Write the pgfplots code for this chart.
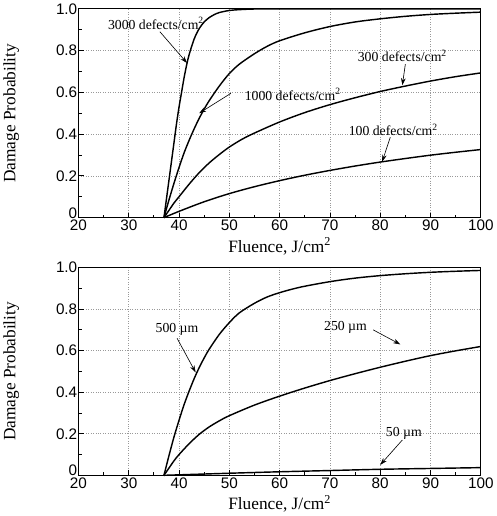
\documentclass[border=0pt]{standalone}
\usepackage{fontspec}
\setmainfont{Liberation Serif}
\newfontfamily\helv{Liberation Sans}
\usepackage{pgfplots}
\pgfplotsset{compat=1.18}
\usetikzlibrary{arrows.meta}

\pgfplotsset{dmg/.style={
  scale only axis, width=395pt,
  xmin=20, xmax=100, ymin=0, ymax=1,
  xtick={20,30,40,50,60,70,80,90,100},
  ytick={0,0.2,0.4,0.6,0.8,1.0},
  yticklabels={\raisebox{-0.5pt}[0pt][0pt]{0},0.2,0.4,0.6,0.8,1.0},
  minor x tick num=1, minor y tick num=1,
  tick align=inside, tick pos=left,
  major tick length=5pt, minor tick length=3pt,
  grid=major, major grid style={dotted,gray!80,line width=0.6pt},
  axis line style={line width=1pt},
  every tick/.style={black,line width=0.8pt},
  tick label style={font=\helv\fontsize{15}{15}\selectfont},
  yticklabel style={inner xsep=1pt},
  xticklabel style={inner ysep=2pt},
  /pgf/number format/assume math mode=true,
  label style={font=\fontsize{17}{17}\selectfont},
  xlabel={Fluence, J/cm\textsuperscript{2}},
  ylabel={Damage Probability},
  xlabel style={at={(axis description cs:0.5,0)},yshift=-34pt,anchor=base},
  ylabel style={at={(axis description cs:-0.167,0.5)},anchor=center},
  cycle list={{black,mark=none}},
  every axis plot post/.append style={line width=1.4pt,mark=none,smooth,tension=0.5},
  clip=false
}}
\tikzset{ann/.style={font=\fontsize{13.5}{14}\selectfont},
  arr/.style={-{Stealth[length=7pt,width=4.5pt]},line width=0.6pt}}

\begin{document}
\begin{tikzpicture}
% top: defect density
\begin{axis}[dmg, name=top, height=205pt, at={(0,0)}]
\addplot coordinates {(37,0)(37.5,0.09)(38,0.18)(38.5,0.27)(39,0.36)(39.5,0.45)(40,0.53)(40.5,0.60)(41,0.67)(41.5,0.73)(42,0.78)(43,0.855)(44,0.905)(45,0.937)(46,0.958)(47,0.972)(48,0.982)(50,0.992)(52,0.996)(55,0.999)(60,1)(70,1)(80,1)(90,1)(100,1)};
\addplot coordinates {(37,0)(38,0.085)(39,0.165)(40,0.24)(41,0.31)(42,0.37)(43,0.425)(44,0.475)(45,0.52)(46,0.56)(48,0.63)(50,0.69)(52,0.735)(55,0.785)(57.5,0.82)(60,0.847)(65,0.885)(70,0.915)(75,0.937)(80,0.952)(85,0.964)(90,0.973)(95,0.979)(100,0.984)};
\addplot coordinates {(37,0)(38,0.035)(39,0.07)(40,0.10)(42,0.16)(44,0.215)(46,0.262)(48,0.302)(50,0.338)(52.5,0.375)(55,0.405)(60,0.458)(65,0.503)(70,0.541)(75,0.574)(80,0.604)(85,0.63)(90,0.654)(95,0.675)(100,0.693)};
\addplot coordinates {(37,0)(40,0.03)(45,0.076)(50,0.115)(55,0.148)(60,0.177)(65,0.203)(70,0.226)(75,0.247)(80,0.266)(85,0.283)(90,0.299)(95,0.313)(100,0.326)};
\node[ann] at (axis cs:35.4,0.93) {3000 defects/cm\textsuperscript{2}};
\draw[arr] (axis cs:36.2,0.89) -- (axis cs:41.6,0.74);
\node[ann] at (axis cs:62.6,0.59) {1000 defects/cm\textsuperscript{2}};
\draw[arr] (axis cs:50.3,0.595) -- (axis cs:44.0,0.50);
\node[ann] at (axis cs:84.4,0.776) {300 defects/cm\textsuperscript{2}};
\draw[arr] (axis cs:85,0.735) -- (axis cs:84.4,0.634);
\node[ann] at (axis cs:82.6,0.42) {100 defects/cm\textsuperscript{2}};
\draw[arr] (axis cs:82,0.385) -- (axis cs:80.4,0.268);
\end{axis}
% bottom: defect size
\begin{axis}[dmg, name=bot, height=204pt, at={(0,-253pt)}]
\addplot coordinates {(37,0)(38,0.095)(39,0.185)(40,0.265)(41,0.34)(42,0.405)(43,0.465)(44,0.518)(45,0.565)(46,0.607)(48,0.678)(50,0.735)(52,0.782)(55,0.828)(57.5,0.858)(60,0.879)(62.5,0.896)(65,0.91)(70,0.932)(75,0.949)(80,0.961)(85,0.97)(90,0.977)(95,0.982)(100,0.986)};
\addplot coordinates {(37,0)(38,0.035)(39,0.07)(40,0.10)(42,0.152)(44,0.197)(46,0.233)(48,0.262)(50,0.287)(55,0.338)(60,0.381)(65,0.42)(70,0.456)(75,0.489)(80,0.52)(85,0.549)(90,0.576)(95,0.599)(100,0.62)};
\addplot coordinates {(37,0)(50,0.01)(60,0.017)(70,0.023)(80,0.029)(90,0.033)(100,0.037)};
\node[ann] at (axis cs:39.6,0.70) {500 \textmu m};
\draw[arr] (axis cs:39.6,0.66) -- (axis cs:43.3,0.495);
\node[ann] at (axis cs:73.1,0.713) {250 \textmu m};
\draw[arr] (axis cs:78.6,0.70) -- (axis cs:84,0.63);
\node[ann] at (axis cs:84.7,0.203) {50 \textmu m};
\draw[arr] (axis cs:84.4,0.17) -- (axis cs:80,0.05);
\end{axis}
\end{tikzpicture}
\end{document}
